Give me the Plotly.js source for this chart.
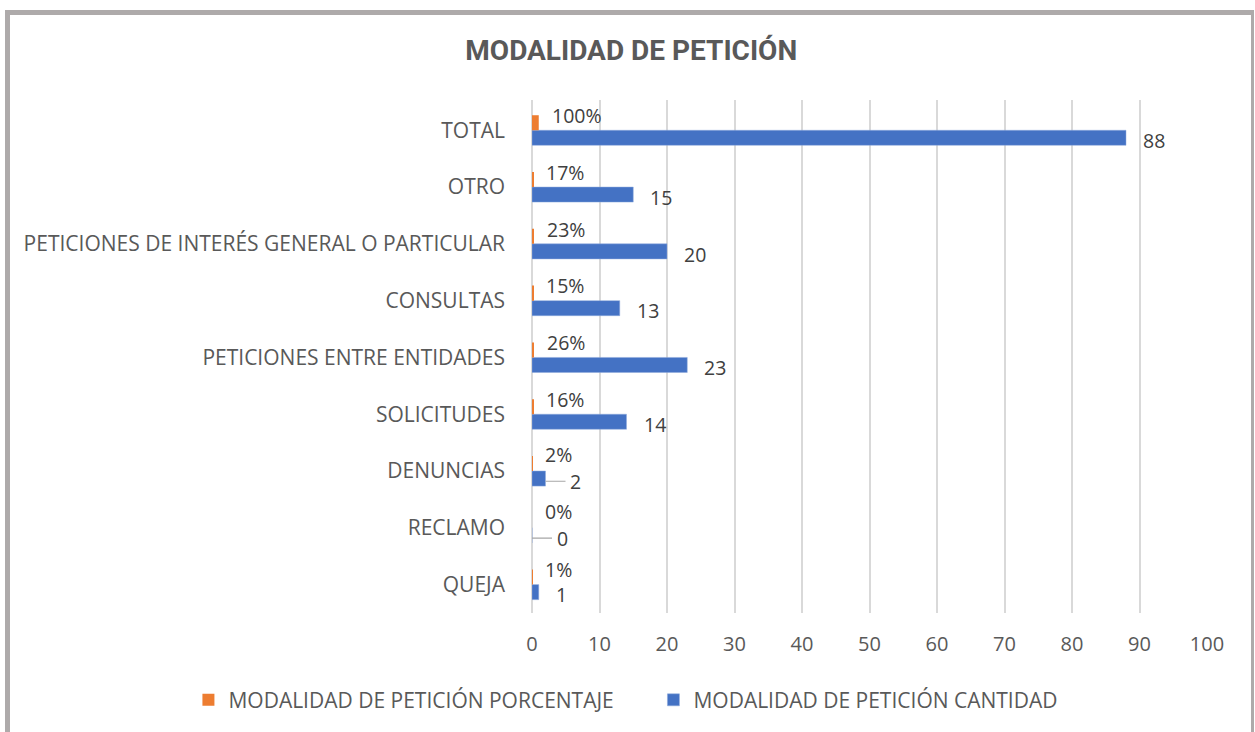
<!DOCTYPE html>
<html>
<head>
<meta charset="utf-8">
<script src="https://cdn.plot.ly/plotly-3.0.1.min.js"></script>
<style>
  html, body { margin: 0; padding: 0; background: #ffffff; }
  #wrap { position: relative; width: 1255px; height: 732px; overflow: hidden; }
  #chart { position: absolute; left: 0; top: 0; width: 1255px; height: 732px; }
  #frame { position: absolute; left: 5px; top: 10px; width: 1241px; height: 740px;
           border-left: 5px solid #AEAAAA; border-top: 5px solid #AEAAAA; border-right: 3px solid #AEAAAA;
           pointer-events: none; }
</style>
</head>
<body>
<div id="wrap">
  <div id="chart"></div>
  <div id="frame"></div>
</div>
<script>
// Categories listed from bottom to top
const categories = ['QUEJA', 'RECLAMO', 'DENUNCIAS', 'SOLICITUDES', 'PETICIONES ENTRE ENTIDADES',
                    'CONSULTAS', 'PETICIONES DE INTERÉS GENERAL O PARTICULAR', 'OTRO', 'TOTAL'];
const cantidad   = [1, 0, 2, 14, 23, 13, 20, 15, 88];
const porcentaje = [0.01, 0.00, 0.02, 0.16, 0.26, 0.15, 0.23, 0.17, 1.00];
const xTicks = [0, 10, 20, 30, 40, 50, 60, 70, 80, 90, 100];
const seriesNames = ['MODALIDAD DE PETICIÓN PORCENTAJE', 'MODALIDAD DE PETICIÓN CANTIDAD'];
const leaderCats = ['DENUNCIAS', 'RECLAMO'];

const txt = '#595959';
const bodyFont = 'Open Sans, Noto Sans, sans-serif';
const lblSize = 19.5;

const traceCant = {
  type: 'bar', orientation: 'h', name: seriesNames[1],
  x: cantidad, y: categories,
  marker: { color: '#4472C4', line: { color: '#8FAADC', width: 0.5 } },
  legendrank: 2, hoverinfo: 'x+y'
};
const tracePct = {
  type: 'bar', orientation: 'h', name: seriesNames[0],
  x: porcentaje, y: categories,
  marker: { color: '#ED7D31' },
  legendrank: 1, hoverinfo: 'x+y'
};

const annotations = [];
categories.forEach((c, i) => {
  const isLeader = leaderCats.indexOf(c) >= 0;
  // percentage label (above orange bar)
  annotations.push({
    x: porcentaje[i], y: i + (isLeader ? 0.29 : 0.26), xref: 'x', yref: 'y',
    text: Math.round(porcentaje[i] * 100) + '%', showarrow: false,
    xanchor: 'left', yanchor: 'middle', xshift: 11,
    font: { family: bodyFont, size: lblSize, color: '#404040' }
  });
  // cantidad label (right of blue bar)
  if (isLeader) {
    annotations.push({
      x: cantidad[i], y: i - 0.18, xref: 'x', yref: 'y',
      text: String(cantidad[i]), showarrow: true, arrowhead: 0, arrowwidth: 1.2,
      arrowcolor: '#A6A6A6', ax: 30, ay: 0, borderpad: 4,
      font: { family: bodyFont, size: lblSize, color: '#404040' }
    });
  } else {
    annotations.push({
      x: cantidad[i], y: i - 0.18, xref: 'x', yref: 'y',
      text: String(cantidad[i]), showarrow: false,
      xanchor: 'left', yanchor: 'middle', xshift: 15,
      font: { family: bodyFont, size: lblSize, color: '#404040' }
    });
  }
});

const layout = {
  width: 1255, height: 732,
  paper_bgcolor: 'rgba(0,0,0,0)', plot_bgcolor: 'rgba(0,0,0,0)',
  margin: { l: 532, r: 48, t: 100, b: 119, autoexpand: false },
  title: {
    text: '<b>MODALIDAD DE PETICIÓN</b>',
    font: { family: 'Liberation Sans Narrow, Roboto, Arial, sans-serif', size: 28, color: txt },
    x: 0.503, xanchor: 'center', y: 0.932, yanchor: 'middle'
  },
  barmode: 'group', bargap: 0.47, bargroupgap: 0,
  xaxis: {
    range: [0, 100], tickvals: xTicks, ticktext: xTicks.map(String),
    showgrid: true, gridcolor: '#D9D9D9', gridwidth: 1.5,
    zeroline: true, zerolinecolor: '#D9D9D9', zerolinewidth: 1.5,
    showline: false, ticks: '', ticklabelstandoff: 17,
    tickfont: { family: bodyFont, size: 20, color: txt }, fixedrange: true
  },
  yaxis: {
    type: 'category', categoryorder: 'array', categoryarray: categories,
    showgrid: false, zeroline: false, showline: false, ticks: '',
    ticklabelstandoff: 26,
    tickfont: { family: bodyFont, size: 21, color: txt }, fixedrange: true
  },
  legend: {
    orientation: 'h', x: -0.509, xanchor: 'left', y: -0.13, yanchor: 'top',
    font: { family: bodyFont, size: 21, color: txt }, itemwidth: 30,
    entrywidth: 420, entrywidthmode: 'pixels'
  },
  annotations: annotations,
  showlegend: true
};

Plotly.newPlot('chart', [traceCant, tracePct], layout, { displayModeBar: false, responsive: false });
</script>
</body>
</html>
